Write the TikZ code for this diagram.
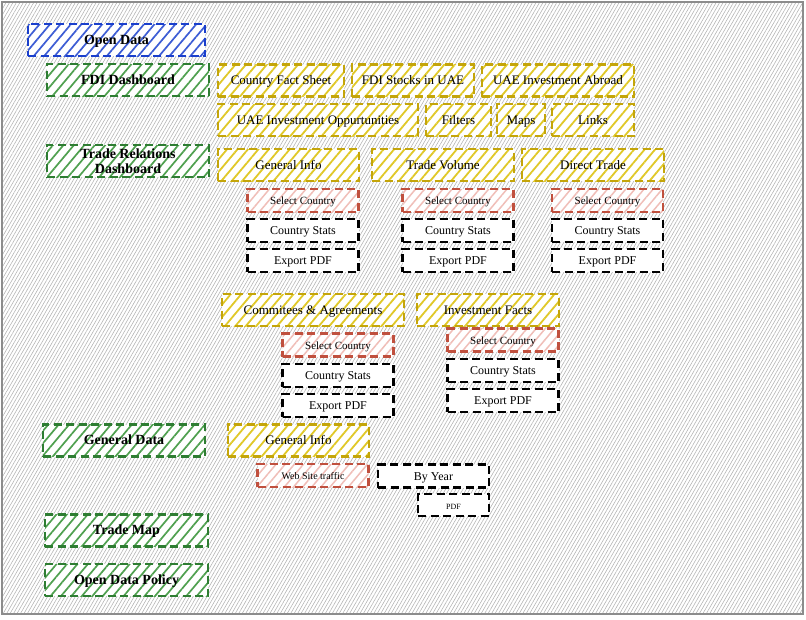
\documentclass[tikz,border=0pt]{standalone}
\usepackage{fontspec}
\setmainfont{Liberation Serif}
\usetikzlibrary{patterns.meta}

\definecolor{odblue}{HTML}{1A3FCC}
\definecolor{odgreen}{HTML}{2E7D32}
\definecolor{odgreenl}{HTML}{4FA04F}
\definecolor{odyellow}{HTML}{C4A50A}
\definecolor{odyellowl}{HTML}{E0C828}
\definecolor{odred}{HTML}{C0503E}
\definecolor{odredl}{HTML}{F0BEB8}

\tikzset{
  box/.style={draw, line width=2.4pt, dash pattern=on 8pt off 4.5pt,
    inner sep=0pt, align=center, preaction={fill=white},
    text height=0.9em, text depth=0.1em},
  bluebox/.style={box, draw=odblue, minimum height=32,
    pattern={Lines[angle=50,distance=8pt,line width=1.7pt]}, pattern color=odblue!85,
    font=\fontsize{14}{14}\selectfont\bfseries},
  greenbox/.style={box, draw=odgreen, minimum width=162, minimum height=32,
    pattern={Lines[angle=50,distance=8pt,line width=1.7pt]}, pattern color=odgreenl,
    font=\fontsize{14}{15}\selectfont\bfseries},
  yellowbox/.style={box, draw=odyellow, minimum height=32,
    pattern={Lines[angle=50,distance=8pt,line width=1.8pt]}, pattern color=odyellowl,
    font=\fontsize{13}{13}\selectfont},
  redbox/.style={box, draw=odred, minimum width=111, minimum height=23,
    pattern={Lines[angle=50,distance=7pt,line width=1.5pt]}, pattern color=odredl,
    font=\fontsize{11}{11}\selectfont},
  blackbox/.style={box, draw=black, minimum width=111, minimum height=23,
    font=\fontsize{12}{12}\selectfont},
}

\begin{document}
\begin{tikzpicture}[x=1pt,y=-1pt]
  \useasboundingbox (0,0) rectangle (806,619);
  % fond
  \path[draw=black!45, line width=1.5pt, preaction={fill=white},
    pattern={Lines[angle=60,distance=3pt,line width=0.55pt]}, pattern color=black!30]
    (2,2) rectangle (803,614);

  \node[bluebox, minimum width=177] (opendata) at (116.5,40) {Open Data};

  % FDI
  \node[greenbox] (fdi) at (128,80) {FDI Dashboard};
  \node[yellowbox, minimum width=126] (factsheet) at (281,80.5) {Country Fact Sheet};
  \node[yellowbox, minimum width=122] (stocks) at (413,80.5) {FDI Stocks in UAE};
  \node[yellowbox, minimum width=152] (abroad) at (558,80.5) {UAE Investment Abroad};
  \node[yellowbox, minimum width=200] (opport) at (318,120) {UAE Investment Oppurtunities};
  \node[yellowbox, minimum width=65] (filters) at (458.5,120) {Filters};
  \node[yellowbox, minimum width=48] (maps) at (521,120) {Maps};
  \node[yellowbox, minimum width=82] (links) at (593,120) {Links};

  % trade relations
  \node[greenbox, text height=, text depth=] (trade) at (128,161) {Trade Relations\\Dashboard};
  \node[yellowbox, minimum width=141] (geninfo) at (288.5,165) {General Info};
  \node[yellowbox, minimum width=142] (volume) at (443,165) {Trade Volume};
  \node[yellowbox, minimum width=142] (direct) at (593,165) {Direct Trade};

  \node[redbox] (selA) at (303,200.5) {Select Country};
  \node[redbox] (selB) at (458,200.5) {Select Country};
  \node[redbox] (selC) at (607.5,200.5) {Select Country};
  \node[blackbox] (statA) at (303,230.5) {Country Stats};
  \node[blackbox] (statB) at (458,230.5) {Country Stats};
  \node[blackbox] (statC) at (607.5,230.5) {Country Stats};
  \node[blackbox] (pdfA) at (303,260.5) {Export PDF};
  \node[blackbox] (pdfB) at (458,260.5) {Export PDF};
  \node[blackbox] (pdfC) at (607.5,260.5) {Export PDF};

  \node[yellowbox, minimum width=182] (commit) at (313,310) {Commitees \& Agreements};
  \node[yellowbox, minimum width=142] (invest) at (488,310) {Investment Facts};
  \node[redbox] (selD) at (338,345) {Select Country};
  \node[redbox] (selE) at (503,340) {Select Country};
  \node[blackbox] (statD) at (338,375.5) {Country Stats};
  \node[blackbox] (statE) at (503,370.5) {Country Stats};
  \node[blackbox] (pdfD) at (338,405.5) {Export PDF};
  \node[blackbox] (pdfE) at (503,400.5) {Export PDF};

  % general data
  \node[greenbox] (gendata) at (124,440.5) {General Data};
  \node[yellowbox, minimum width=141] (geninfo2) at (298.5,440.5) {General Info};
  \node[redbox, font=\fontsize{10}{10}\selectfont] (traffic) at (313,475.5) {Web Site traffic};
  \node[blackbox] (byyear) at (433.5,476) {By Year};
  \node[blackbox, minimum width=71, minimum height=22, font=\fontsize{8}{8}\selectfont] (pdf) at (453.5,505) {PDF};

  \node[greenbox, minimum width=163] (trademap) at (126.5,530.5) {Trade Map};
  \node[greenbox, minimum width=163] (policy) at (126.5,580) {Open Data Policy};
\end{tikzpicture}
\end{document}
